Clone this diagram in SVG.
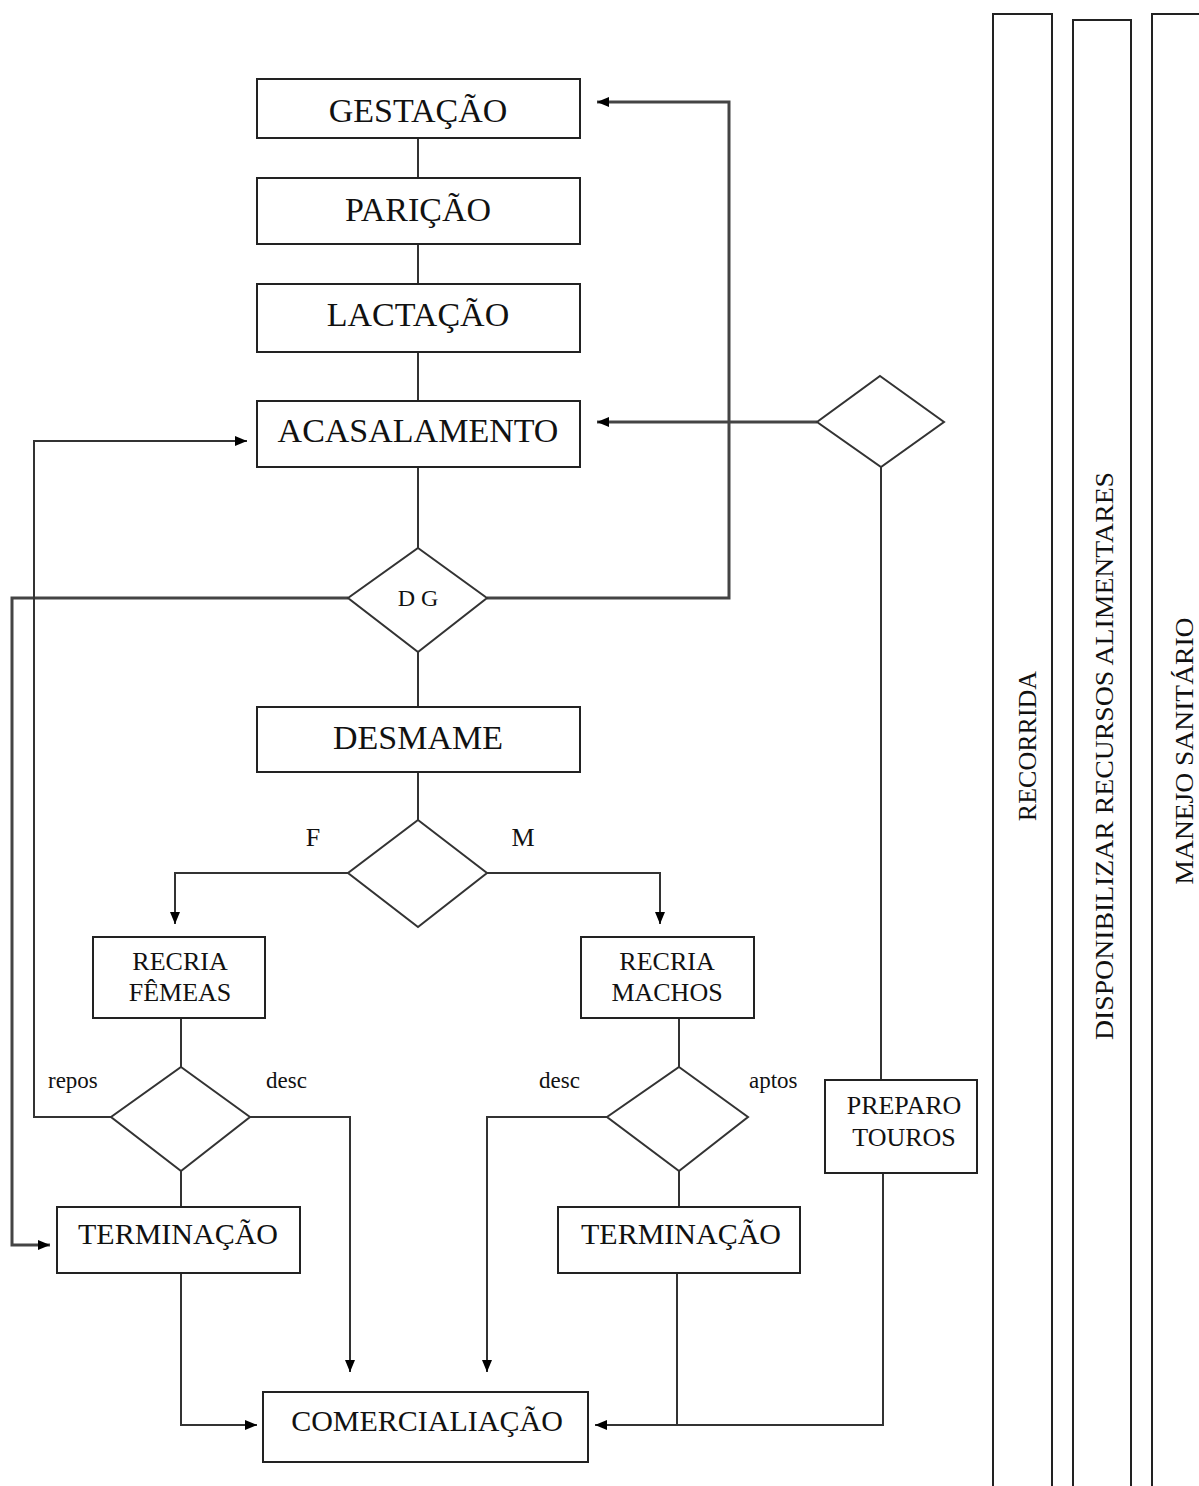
<svg xmlns="http://www.w3.org/2000/svg" width="1199" height="1486" viewBox="0 0 1199 1486">
<style>
.box{fill:#fff;stroke:#222;stroke-width:2}
.dia{fill:#fff;stroke:#333;stroke-width:2}
.ln{fill:none;stroke:#333;stroke-width:2}
.lt{fill:none;stroke:#444;stroke-width:3}
.t{font-family:"Liberation Serif","Times New Roman",serif;fill:#111;text-anchor:middle}
.big{font-size:34px}
.mid{font-size:30px}
.sm{font-size:26px}
.lb{font-size:23px;text-anchor:start}
</style>
<defs>
<marker id="ah" viewBox="0 0 12 10" refX="12" refY="5" markerWidth="12" markerHeight="10" markerUnits="userSpaceOnUse" orient="auto">
<path d="M0,0 L12,5 L0,10 z" fill="#000"/>
</marker>
</defs>
<rect width="1199" height="1486" fill="#fff"/>

<g id="connectors">
<path class="ln" d="M418,138 V178"/>
<path class="ln" d="M418,244 V284"/>
<path class="ln" d="M418,352 V401"/>
<path class="ln" d="M418,467 V548"/>
<path class="ln" d="M418,652 V707"/>
<path class="ln" d="M418,772 V820"/>
<path class="lt" d="M487,598 H729 V102 H597" marker-end="url(#ah)"/>
<path class="lt" d="M348,598 H12 V1245 H50" marker-end="url(#ah)"/>
<path class="lt" d="M817,422 H597" marker-end="url(#ah)"/>
<path class="ln" d="M881,467 V1080"/>
<path class="ln" d="M348,873 H175 V924" marker-end="url(#ah)"/>
<path class="ln" d="M487,873 H660 V924" marker-end="url(#ah)"/>
<path class="ln" d="M181,1018 V1067"/>
<path class="ln" d="M181,1171 V1207"/>
<path class="ln" d="M111,1117 H34 V441 H247" marker-end="url(#ah)"/>
<path class="ln" d="M250,1117 H350 V1372" marker-end="url(#ah)"/>
<path class="ln" d="M679,1018 V1067"/>
<path class="ln" d="M679,1171 V1207"/>
<path class="ln" d="M607,1117 H487 V1372" marker-end="url(#ah)"/>
<path class="ln" d="M181,1273 V1425 H257" marker-end="url(#ah)"/>
<path class="ln" d="M883,1173 V1425 H595" marker-end="url(#ah)"/>
<path class="ln" d="M677,1273 V1425"/>
</g>

<g id="gestacao"><rect class="box" x="257" y="79" width="323" height="59"/><text class="t big" x="418" y="122">GESTAÇÃO</text></g>
<g id="paricao"><rect class="box" x="257" y="178" width="323" height="66"/><text class="t big" x="418" y="221">PARIÇÃO</text></g>
<g id="lactacao"><rect class="box" x="257" y="284" width="323" height="68"/><text class="t big" x="418" y="326">LACTAÇÃO</text></g>
<g id="acasalamento"><rect class="box" x="257" y="401" width="323" height="66"/><text class="t big" x="418" y="442">ACASALAMENTO</text></g>
<g id="dg"><polygon class="dia" points="418,548 487,598 418,652 348,598"/><text class="t" style="font-size:24px" x="418" y="606">D G</text></g>
<g id="desmame"><rect class="box" x="257" y="707" width="323" height="65"/><text class="t big" x="418" y="749">DESMAME</text></g>
<g id="sexo"><polygon class="dia" points="418,820 487,873 418,927 348,873"/><text class="t sm" x="313" y="846">F</text><text class="t sm" x="523" y="846">M</text></g>
<g id="recria-femeas"><rect class="box" x="93" y="937" width="172" height="81"/><text class="t sm" x="180" y="970">RECRIA</text><text class="t sm" x="180" y="1001">FÊMEAS</text></g>
<g id="recria-machos"><rect class="box" x="581" y="937" width="173" height="81"/><text class="t sm" x="667" y="970">RECRIA</text><text class="t sm" x="667" y="1001">MACHOS</text></g>
<g id="dec-femeas"><polygon class="dia" points="181,1067 250,1117 181,1171 111,1117"/><text class="t lb" x="48" y="1088">repos</text><text class="t lb" x="266" y="1088">desc</text></g>
<g id="dec-machos"><polygon class="dia" points="679,1067 748,1117 679,1171 607,1117"/><text class="t lb" x="539" y="1088">desc</text><text class="t lb" x="749" y="1088">aptos</text></g>
<g id="terminacao-f"><rect class="box" x="57" y="1207" width="243" height="66"/><text class="t mid" x="178" y="1244">TERMINAÇÃO</text></g>
<g id="terminacao-m"><rect class="box" x="558" y="1207" width="242" height="66"/><text class="t mid" x="681" y="1244">TERMINAÇÃO</text></g>
<g id="comercializacao"><rect class="box" x="263" y="1392" width="325" height="70"/><text class="t mid" x="427" y="1431">COMERCIALIAÇÃO</text></g>
<g id="preparo-touros"><rect class="box" x="825" y="1080" width="152" height="93"/><text class="t sm" x="904" y="1114">PREPARO</text><text class="t sm" x="904" y="1146">TOUROS</text></g>
<g id="dec-touros"><polygon class="dia" points="880,376 944,422 881,467 817,422"/></g>

<g id="recorrida"><rect class="box" x="993" y="14" width="59" height="1490"/><text class="t sm" transform="translate(1036,746) rotate(-90)">RECORRIDA</text></g>
<g id="recursos"><rect class="box" x="1073" y="20" width="58" height="1490"/><text class="t sm" transform="translate(1113,756) rotate(-90)" textLength="568" lengthAdjust="spacingAndGlyphs">DISPONIBILIZAR RECURSOS ALIMENTARES</text></g>
<g id="manejo"><rect class="box" x="1152" y="14" width="60" height="1490"/><text class="t" style="font-size:25px" transform="translate(1193,751) rotate(-90)" textLength="267" lengthAdjust="spacingAndGlyphs">MANEJO SANITÁRIO</text></g>
</svg>
